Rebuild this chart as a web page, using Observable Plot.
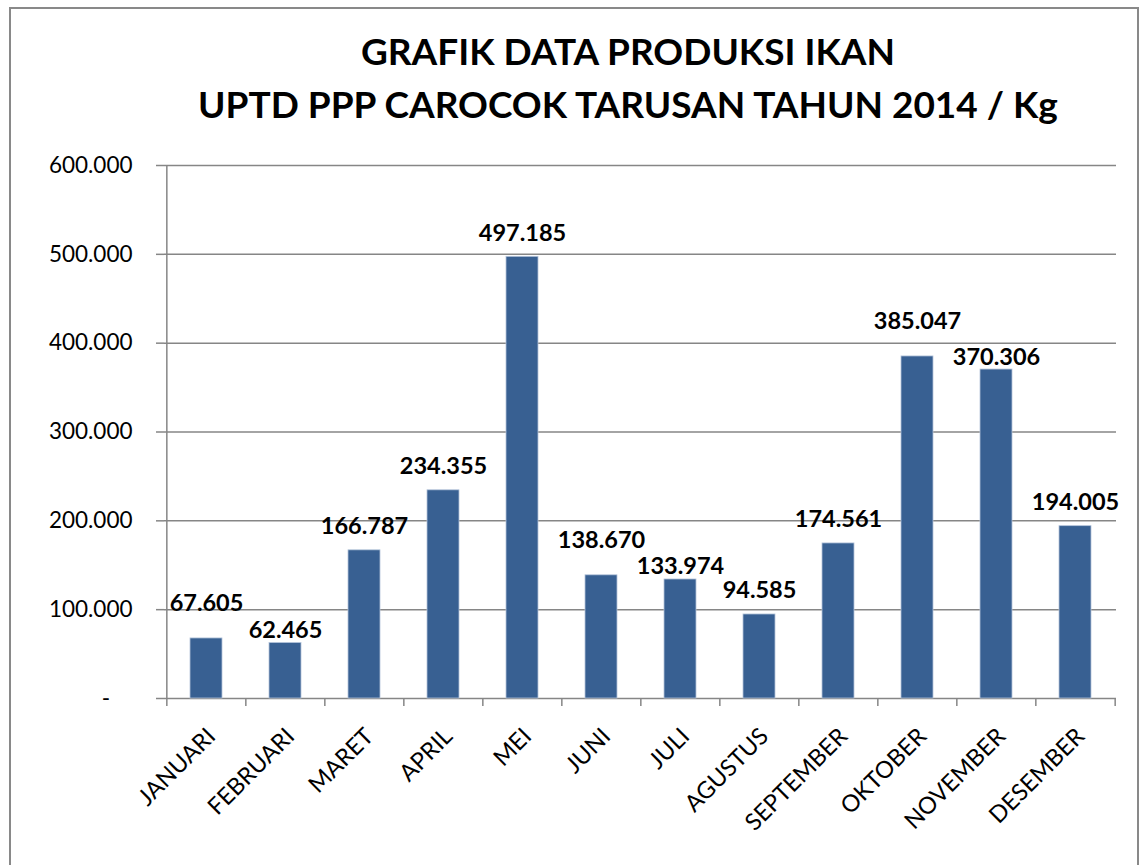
<!DOCTYPE html>
<html>
<head>
<meta charset="utf-8">
<script src="https://cdn.jsdelivr.net/npm/d3@7"></script>
<script src="https://cdn.jsdelivr.net/npm/@observablehq/plot@0.6"></script>
<style>
  html, body { margin: 0; padding: 0; background: #fff; }
  body { width: 1144px; height: 865px; overflow: hidden; position: relative; font-family: Lato, "Open Sans", sans-serif; }
  #frame { position: absolute; left: 9px; top: 7px; width: 1130px; height: 920px; border: 2px solid #898989; box-sizing: border-box; pointer-events: none; }
  #title { position: relative; width: 1144px; height: 145px; box-sizing: border-box; padding-left: 112px; padding-top: 24px; text-align: center; font-weight: bold; font-size: 37px; line-height: 53px; color: #000; }
  #chart svg { display: block; }
</style>
</head>
<body>
<div id="title"><div>GRAFIK DATA PRODUKSI IKAN</div><div>UPTD PPP CAROCOK TARUSAN TAHUN 2014 / Kg</div></div>
<div id="chart"></div>
<div id="frame"></div>
<script>
const months = ["JANUARI","FEBRUARI","MARET","APRIL","MEI","JUNI","JULI","AGUSTUS","SEPTEMBER","OKTOBER","NOVEMBER","DESEMBER"];
const values = [67605, 62465, 166787, 234355, 497185, 138670, 133974, 94585, 174561, 385047, 370306, 194005];
const valueLabels = ["67.605","62.465","166.787","234.355","497.185","138.670","133.974","94.585","174.561","385.047","370.306","194.005"];
const yTicks = [0, 100000, 200000, 300000, 400000, 500000, 600000];
const yTickLabels = ["-\u2002\u2002", "100.000", "200.000", "300.000", "400.000", "500.000", "600.000"];

// Label collision rule: when two neighbouring bars have nearly equal heights,
// lift the taller one's label and lower the shorter one's, so they don't collide.
const yMax = yTicks[yTicks.length - 1];
const near = (a, b) => Math.abs(a - b) < 0.05 * yMax;
const roles = months.map(() => "normal");
for (let i = 0; i < values.length - 1; i++) {
  if (near(values[i], values[i + 1])) {
    const hi = values[i] >= values[i + 1] ? i : i + 1;
    const lo = hi === i ? i + 1 : i;
    roles[hi] = "raised";
    roles[lo] = "lowered";
  }
}
const data = months.map((m, i) => ({month: m, value: values[i], label: valueLabels[i], role: roles[i]}));

const W = 1144, H = 720, ML = 164, MR = 28, MT = 20, MB = 167;
const step = (W - ML - MR) / months.length;
const gray = "#868686";
const labelStyle = {x: "month", y: "value", text: "label", lineAnchor: "bottom", fontWeight: "bold", fontSize: 23.5, fill: "#000"};

const chart = Plot.plot({
  width: W, height: H,
  marginTop: MT, marginLeft: ML, marginRight: MR, marginBottom: MB,
  style: {fontFamily: "Lato, sans-serif", fontSize: "22px", color: "#000", background: "#fff", overflow: "visible"},
  x: {domain: months, paddingInner: 0.6, paddingOuter: 0.3, label: null},
  y: {domain: [yTicks[0], yMax], label: null},
  marks: [
    Plot.ruleY(yTicks, {stroke: gray, strokeWidth: 1.5}),
    Plot.ruleX([months[0]], {y1: yTicks[0], y2: yMax, dx: -step / 2, stroke: gray, strokeWidth: 1.5}),
    Plot.barY(data, {x: "month", y: "value", fill: "#386092", stroke: "#b4c4da", strokeWidth: 0.8}),
    Plot.text(data.filter(d => d.role === "normal"), {...labelStyle, dy: -16}),
    Plot.text(data.filter(d => d.role === "raised"), {...labelStyle, dy: -27}),
    Plot.text(data.filter(d => d.role === "lowered"), {...labelStyle, dy: -5}),
    Plot.axisY({ticks: yTicks, tickFormat: d => yTickLabels[yTicks.indexOf(d)], tickSize: 8, tickPadding: 24, fontSize: 22.5, stroke: gray, strokeWidth: 1.5, label: null}),
    Plot.axisX({tickSize: 8, dx: -step / 2, tickFormat: () => "", stroke: gray, strokeWidth: 1.5, label: null}),
    Plot.axisX({ticks: [months[months.length - 1]], tickSize: 8, dx: step / 2, tickFormat: () => "", stroke: gray, strokeWidth: 1.5, label: null}),
    Plot.axisX({tickSize: 0, tickRotate: -45, tickPadding: 34, dx: 5, fontSize: 23.5, label: null})
  ]
});
document.getElementById("chart").appendChild(chart);
</script>
</body>
</html>
